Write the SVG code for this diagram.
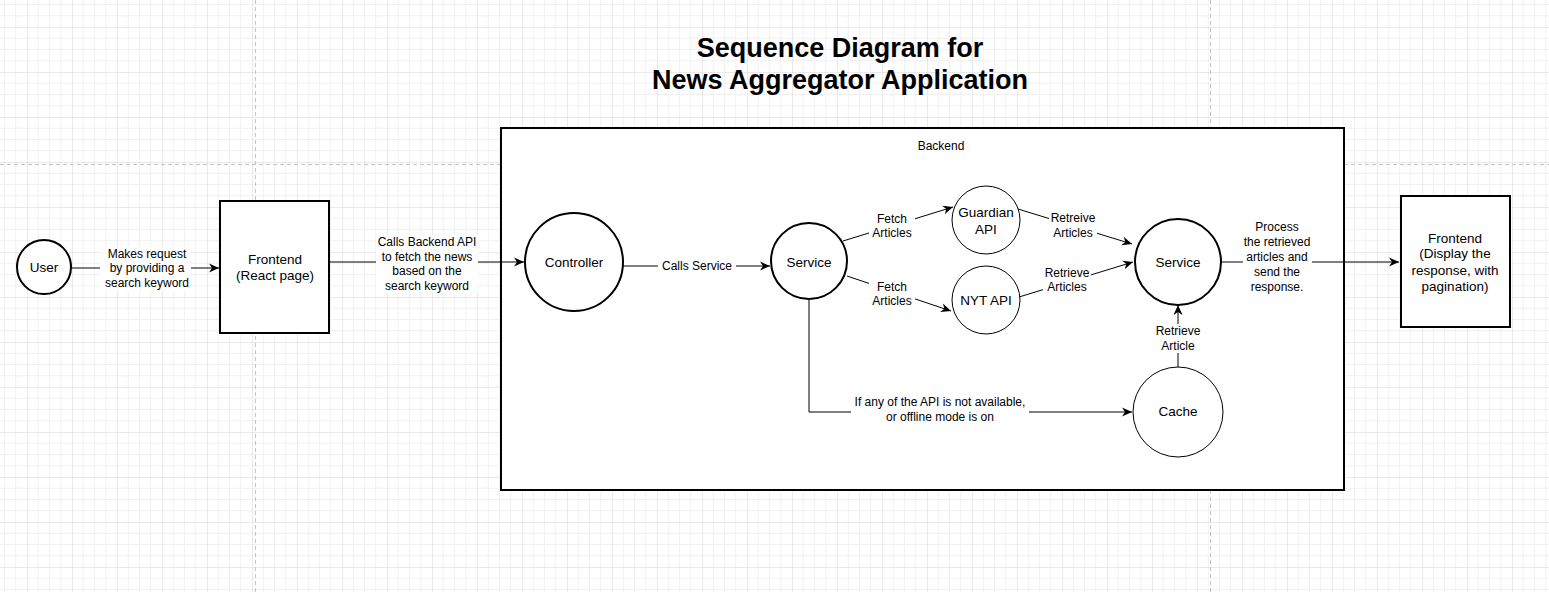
<svg xmlns="http://www.w3.org/2000/svg" width="1549" height="592" viewBox="0 0 1549 592">
<style>
.t{font-family:"Liberation Sans",Arial,sans-serif;fill:#000;text-anchor:middle}
.lbl{font-size:12px}
.nd{font-size:13.5px}
.title{font-size:27px;font-weight:bold}
.thick{fill:#fff;stroke:#000;stroke-width:2}
.thin{fill:#fff;stroke:#000;stroke-width:1}
.edge{fill:none;stroke:#000;stroke-width:1}
.bg{fill:#fff}
.page{stroke:#c4c4c4;stroke-width:1;stroke-dasharray:4 3;fill:none}
</style>
<defs>
<pattern id="grid" width="45" height="45" patternUnits="userSpaceOnUse" patternTransform="translate(27 27)">
<path d="M11.25 0V45M22.5 0V45M33.75 0V45M0 11.25H45M0 22.5H45M0 33.75H45" stroke="#f1f1f1" stroke-width="1" fill="none"/>
<path d="M0 0V45M0 0H45" stroke="#d6d6d6" stroke-width="1" fill="none"/>
</pattern>
<marker id="arr" markerWidth="11" markerHeight="10" refX="10" refY="5" orient="auto" markerUnits="userSpaceOnUse">
<path d="M0,0.5 L10,5 L0,9.5 L3,5 Z" fill="#000"/>
</marker>
</defs>
<rect width="1549" height="592" fill="#fff"/>
<rect width="1549" height="592" fill="url(#grid)"/>
<path class="page" d="M255.5 0V592M1210.5 0V592M0 164.5H1549"/>

<g id="title">
<text class="t title" x="840" y="57">Sequence Diagram for</text>
<text class="t title" x="840" y="89">News Aggregator Application</text>
</g>

<g id="backend">
<rect class="thick" x="501" y="128" width="843" height="362"/>
<text class="t lbl" x="941" y="150">Backend</text>
</g>

<g id="connectors">
<path class="edge" d="M71 268H219" marker-end="url(#arr)"/>
<path class="edge" d="M329 262H524" marker-end="url(#arr)"/>
<path class="edge" d="M623 266H770" marker-end="url(#arr)"/>
<path class="edge" d="M843 241L953 207" marker-end="url(#arr)"/>
<path class="edge" d="M847 276L951 311" marker-end="url(#arr)"/>
<path class="edge" d="M1018 209L1132 244" marker-end="url(#arr)"/>
<path class="edge" d="M1019 297L1133 262" marker-end="url(#arr)"/>
<path class="edge" d="M809 299V412H1132" marker-end="url(#arr)"/>
<path class="edge" d="M1178 367V305" marker-end="url(#arr)"/>
<path class="edge" d="M1221 262H1399" marker-end="url(#arr)"/>

<rect class="bg" x="100" y="247" width="91" height="44"/>
<text class="t lbl" x="147" y="258">Makes request</text>
<text class="t lbl" x="147" y="272">by providing a</text>
<text class="t lbl" x="147" y="287">search keyword</text>

<rect class="bg" x="376" y="235" width="102" height="58"/>
<text class="t lbl" x="427" y="246">Calls Backend API</text>
<text class="t lbl" x="427" y="261">to fetch the news</text>
<text class="t lbl" x="427" y="275">based on the</text>
<text class="t lbl" x="427" y="290">search keyword</text>

<rect class="bg" x="658" y="259" width="78" height="14"/>
<text class="t lbl" x="697" y="270">Calls Service</text>

<rect class="bg" x="869" y="212" width="46" height="28"/>
<text class="t lbl" x="892" y="223">Fetch</text>
<text class="t lbl" x="892" y="237">Articles</text>

<rect class="bg" x="869" y="280" width="46" height="28"/>
<text class="t lbl" x="892" y="291">Fetch</text>
<text class="t lbl" x="892" y="305">Articles</text>

<rect class="bg" x="1049" y="211" width="48" height="29"/>
<text class="t lbl" x="1073" y="222">Retreive</text>
<text class="t lbl" x="1073" y="237">Articles</text>

<rect class="bg" x="1043" y="266" width="48" height="28"/>
<text class="t lbl" x="1067" y="277">Retrieve</text>
<text class="t lbl" x="1067" y="291">Articles</text>

<rect class="bg" x="851" y="395" width="178" height="29"/>
<text class="t lbl" x="940" y="406">If any of the API is not available,</text>
<text class="t lbl" x="940" y="421">or offline mode is on</text>

<rect class="bg" x="1154" y="324" width="48" height="29"/>
<text class="t lbl" x="1178" y="335">Retrieve</text>
<text class="t lbl" x="1178" y="350">Article</text>

<rect class="bg" x="1243" y="220" width="69" height="74"/>
<text class="t lbl" x="1277" y="231">Process</text>
<text class="t lbl" x="1277" y="246">the retrieved</text>
<text class="t lbl" x="1277" y="261">articles and</text>
<text class="t lbl" x="1277" y="276">send the</text>
<text class="t lbl" x="1277" y="291">response.</text>
</g>

<g id="user">
<circle class="thick" cx="44" cy="267" r="27"/>
<text class="t nd" x="44" y="272">User</text>
</g>

<g id="frontend">
<rect class="thick" x="220" y="201" width="109" height="132"/>
<text class="t nd" x="275" y="264">Frontend</text>
<text class="t nd" x="275" y="280">(React page)</text>
</g>

<g id="controller">
<circle class="thick" cx="574" cy="262" r="49"/>
<text class="t nd" x="574" y="267">Controller</text>
</g>

<g id="service1">
<circle class="thick" cx="809" cy="261" r="38"/>
<text class="t nd" x="809" y="267">Service</text>
</g>

<g id="guardian">
<circle class="thin" cx="986" cy="220" r="34"/>
<text class="t nd" x="986" y="217">Guardian</text>
<text class="t nd" x="986" y="234">API</text>
</g>

<g id="nyt">
<circle class="thin" cx="986" cy="300" r="34"/>
<text class="t nd" x="986" y="305">NYT API</text>
</g>

<g id="service2">
<circle class="thick" cx="1178" cy="262" r="43"/>
<text class="t nd" x="1178" y="267">Service</text>
</g>

<g id="cache">
<circle class="thin" cx="1178" cy="412" r="45"/>
<text class="t nd" x="1178" y="416">Cache</text>
</g>

<g id="frontend2">
<rect class="thick" x="1401" y="196" width="109" height="131"/>
<text class="t nd" x="1455" y="243">Frontend</text>
<text class="t nd" x="1455" y="258">(Display the</text>
<text class="t nd" x="1455" y="275">response, with</text>
<text class="t nd" x="1455" y="291">pagination)</text>
</g>
</svg>
